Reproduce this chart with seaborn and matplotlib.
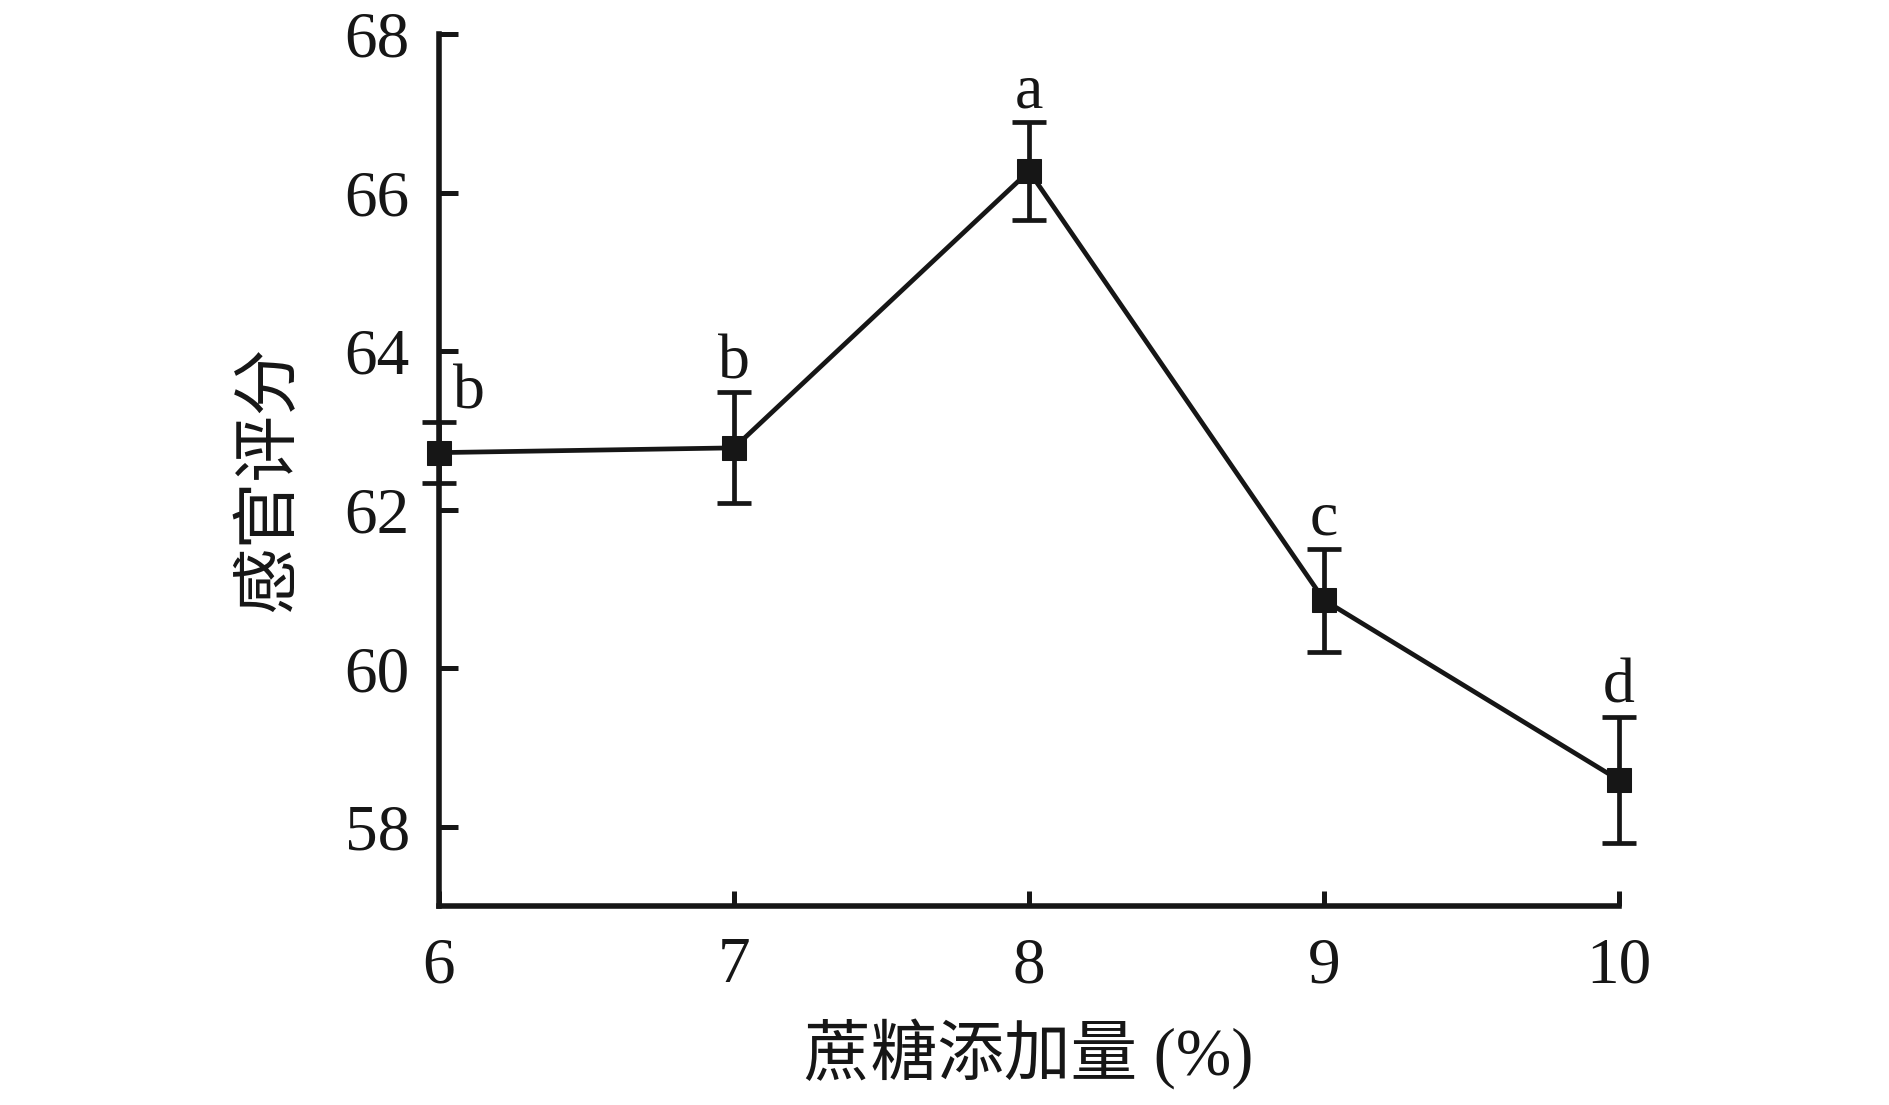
import matplotlib
matplotlib.use("Agg")
import matplotlib.pyplot as plt
import seaborn as sns
import pandas as pd

# ---- data ----
sucrose = [6, 7, 8, 9, 10]
score = [62.72, 62.78, 66.27, 60.86, 58.59]
score_err = [0.38, 0.70, 0.62, 0.65, 0.80]
letters = ["b", "b", "a", "c", "d"]
yticks = [58, 60, 62, 64, 66, 68]
xticks = [6, 7, 8, 9, 10]
xlabel = "蔗糖添加量 (%)"
ylabel = "感官评分"

sns.set_theme(style="ticks")
plt.rcParams["font.family"] = ["Liberation Serif", "Noto Sans CJK SC", "DejaVu Sans"]

ink = "#161616"
df = pd.DataFrame({"x": sucrose, "y": score})

fig = plt.figure(figsize=(18.9, 11.05), dpi=100)
ax = fig.add_axes([0.2323, 0.18, 0.6243, 0.7892])

ax.errorbar(sucrose, score, yerr=score_err, fmt="none", ecolor=ink,
            elinewidth=3.4, capsize=12, capthick=3.4, zorder=3)
sns.lineplot(data=df, x="x", y="y", ax=ax, color=ink, lw=3.4, marker="s",
             markersize=17, markeredgecolor=ink, markerfacecolor=ink, zorder=4)

for ch in ax.get_children():
    try:
        ch.set_clip_on(False)
    except Exception:
        pass

for i, (xv, yv, ev, lt) in enumerate(zip(sucrose, score, score_err, letters)):
    dx = 0.1 if i == 0 else 0.0
    ax.text(xv + dx, yv + ev + 0.18, lt, ha="center", va="baseline",
            fontsize=46, color=ink, fontfamily="Liberation Serif")

ax.set_xlim(6, 10)
ax.set_ylim(57, 68)
ax.set_xticks(xticks)
ax.set_yticks(yticks)
ax.set_xticklabels([str(v) for v in xticks])
ax.set_yticklabels([str(v) for v in yticks])

for s in ["top", "right"]:
    ax.spines[s].set_visible(False)
for s in ["left", "bottom"]:
    ax.spines[s].set_linewidth(4.0)
    ax.spines[s].set_color(ink)

ax.tick_params(axis="y", direction="in", length=14, width=3.6, pad=21,
               labelsize=47, colors=ink)
ax.tick_params(axis="x", direction="in", length=11, width=3.6, pad=22,
               labelsize=47, colors=ink)

ax.set_xlabel(xlabel, fontsize=48, color=ink)
ax.set_ylabel(ylabel, fontsize=48, color=ink)
ax.xaxis.set_label_coords(0.5, -0.13)
ax.yaxis.set_label_coords(-0.117, 0.49)

ax.set_facecolor("white")
fig.patch.set_facecolor("white")
fig.savefig("out.png", dpi=100)
